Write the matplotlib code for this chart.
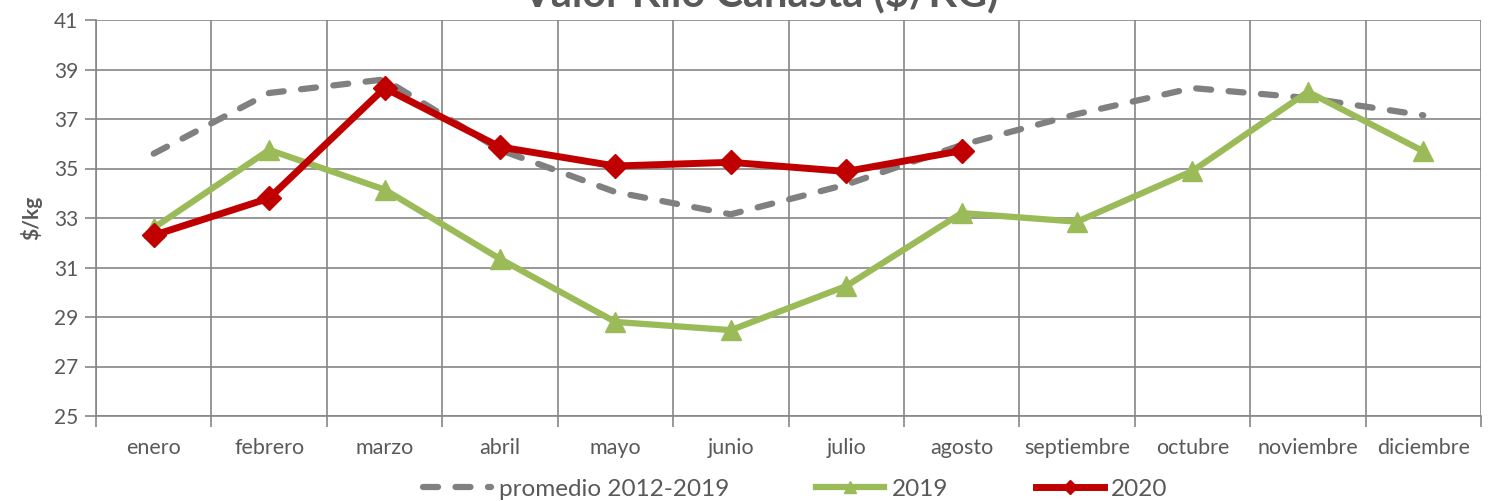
import matplotlib
matplotlib.use('Agg')

import matplotlib.pyplot as plt
import numpy as np

plt.rcParams['font.family'] = ['Lato', 'DejaVu Sans']

# ======== Data ========
meses = ["enero", "febrero", "marzo", "abril", "mayo", "junio", "julio",
         "agosto", "septiembre", "octubre", "noviembre", "diciembre"]
promedio = [35.6, 38.05, 38.6, 35.75, 34.05, 33.15, 34.35, 35.95, 37.2, 38.25, 37.85, 37.15]
v2019 = [32.6, 35.75, 34.15, 31.35, 28.8, 28.47, 30.25, 33.2, 32.85, 34.9, 38.1, 35.7]
v2020 = [32.3, 33.8, 38.25, 35.87, 35.1, 35.25, 34.88, 35.72]

grid_col = "#868686"
text_col = "#595959"

fig = plt.figure(figsize=(14.88, 5.01), dpi=100)
ax = fig.add_axes([96 / 1488, 1 - 416 / 501, 1385 / 1488, 396 / 501])

x = np.arange(len(meses))

ax.plot(x, promedio, color="#808080", linewidth=4.5, linestyle=(0, (2.4, 2.8)),
        dash_capstyle="round", label="promedio 2012-2019", zorder=3)
ax.plot(x, v2019, color="#9BBB59", linewidth=4.5, marker="^", markersize=15,
        label="2019", zorder=4)
ax.plot(x[:len(v2020)], v2020, color="#C00000", linewidth=5, marker="D", markersize=12,
        label="2020", zorder=5)

# ======== Axes ========
ax.set_xlim(-0.5, len(meses) - 0.5)
ax.set_ylim(25, 41)
ax.set_yticks(np.arange(25, 42, 2))
ax.set_xticks(x)
ax.set_xticklabels(meses, fontsize=15.5, color=text_col)
ax.set_xticks(np.arange(-0.5, len(meses), 1), minor=True)
ax.tick_params(axis='x', which='major', length=0, pad=16)
ax.tick_params(axis='x', which='minor', length=8, color=grid_col, width=1.2)
ax.tick_params(axis='y', labelsize=15, labelcolor=text_col, length=8,
               color=grid_col, width=1.2, pad=5)

ax.grid(True, axis='y', color=grid_col, linewidth=1.2)
ax.grid(True, axis='x', which='minor', color=grid_col, linewidth=1.2)
ax.set_axisbelow(True)
for s in ["top", "right"]:
    ax.spines[s].set_visible(False)
for s in ["left", "bottom"]:
    ax.spines[s].set_color(grid_col)
    ax.spines[s].set_linewidth(1.2)

ax.set_ylabel("$/kg", fontsize=15, fontweight="bold", color=text_col, labelpad=8)

# title sits mostly above the canvas, as in the original export
fig.text(0.511, 1 - 6 / 501, "Valor Kilo Canasta ($/KG)", ha="center", va="baseline",
         fontsize=30, fontweight="bold", color=text_col)

ax.legend(loc="center", bbox_to_anchor=(0.505, -0.185), ncol=3, frameon=False,
          fontsize=17.5, numpoints=1, markerscale=0.6, handlelength=2.8,
          handletextpad=0.3, columnspacing=3.6, labelcolor=text_col)

plt.savefig("out.png", dpi=100)
